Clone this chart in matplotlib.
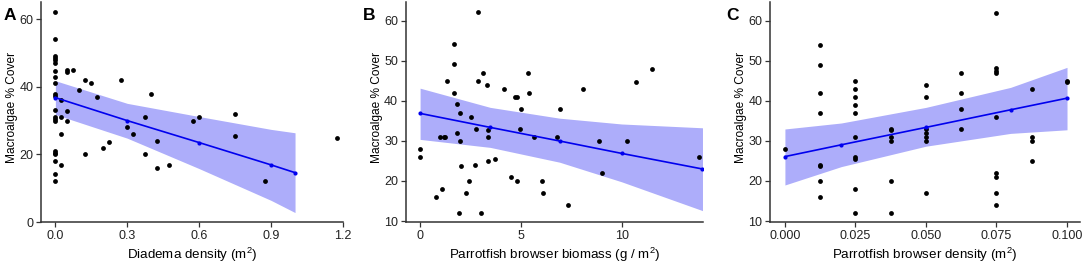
import numpy as np
import matplotlib
matplotlib.use("Agg")
import matplotlib.pyplot as plt

plt.rcParams['font.family'] = ['Liberation Sans', 'DejaVu Sans']
plt.rcParams['mathtext.default'] = 'regular'

# === Panel A: Diadema density ===
a_x = [0, 0, 0, 0, 0, 0, 0, 0, 0, 0, 0, 0, 0, 0, 0, 0, 0, 0, 0, 0, 0,
       0.025, 0.025, 0.025, 0.025, 0.05, 0.05, 0.075, 0.05, 0.05, 0.1, 0.125,
       0.15, 0.175, 0.125, 0.2, 0.225, 0.275, 0.3, 0.325, 0.375, 0.375, 0.4,
       0.425, 0.425, 0.475, 0.575, 0.6, 0.75, 0.75, 0.875, 1.175]
a_y = [62, 54, 49.2, 48.5, 47.8, 47.1, 44.7, 43, 41, 38, 37.4, 33.1, 31.2,
       30.5, 30, 21, 20.5, 20, 18, 14.1, 12,
       36, 31.1, 26, 17, 45, 44.4, 45, 32.8, 30, 39, 42,
       41, 37, 20, 22, 23.7, 42, 28, 26, 31.1, 20, 38,
       24, 16, 17, 30, 31, 32, 25.4, 12, 25]
a_fit_x = [0, 0.3, 0.6, 0.9, 1.0]
a_fit_y = [36.8, 30.0, 23.5, 16.9, 14.6]
a_lo = [31.8, 24.8, 15.8, 6.4, 2.8]
a_hi = [41.8, 35.1, 31.2, 27.4, 26.4]

# === Panel B: Parrotfish browser biomass ===
b_x = [0, 0, 0.79, 0.99, 1.07, 1.24, 1.35, 1.7, 1.7, 1.7, 1.85, 1.81, 1.93,
       1.98, 1.98, 2.03, 2.52, 2.29, 2.42, 2.74, 2.77, 2.87, 2.87, 3.03, 3.11,
       3.33, 3.36, 3.36, 3.37, 3.69, 4.15, 4.5, 4.7, 4.78, 4.78, 4.98, 4.94,
       5.36, 5.37, 5.63, 6.01, 6.1, 6.78, 6.92, 7.33, 8.04, 8.83, 9.0, 10.23,
       10.68, 11.47, 13.8, 1.19]
b_y = [28.1, 26.1, 16.1, 31.1, 18.1, 31.1, 45.1, 54.2, 49.2, 42.1, 39.2, 32.1,
       12.1, 37.1, 30, 23.75, 36.1, 17.1, 20, 24.1, 33.1, 62.2, 45.1, 12.1, 47.1,
       44.1, 31.1, 25.1, 32.75, 25.6, 43.1, 21.1, 41.1, 41.1, 20, 38.1, 33.1,
       47.1, 42.1, 31.1, 20, 17.1, 31.1, 38.1, 14.1, 43.1, 30, 22.1, 30,
       44.75, 48.1, 26.1, 31.1]
b_fit_x = [0, 3.47, 6.9, 9.97, 13.97]
b_fit_y = [36.9, 33.4, 30.0, 26.9, 23.0]
b_lo = [30.4, 28.4, 24.7, 19.8, 12.6]
b_hi = [43.2, 38.4, 35.7, 34.25, 33.3]

# === Panel C: Parrotfish browser density ===
c_x = [0,
       0.0125, 0.0125, 0.0125, 0.0125, 0.0125, 0.0125, 0.0125, 0.0125,
       0.025, 0.025, 0.025, 0.025, 0.025, 0.025, 0.025, 0.025, 0.025, 0.025,
       0.0375, 0.0375, 0.0375, 0.0375, 0.0375, 0.0375,
       0.05, 0.05, 0.05, 0.05, 0.05, 0.05, 0.05,
       0.0625, 0.0625, 0.0625, 0.0625,
       0.075, 0.075, 0.075, 0.075, 0.075, 0.075, 0.075, 0.075, 0.075,
       0.0875, 0.0875, 0.0875, 0.0875,
       0.1, 0.1]
c_y = [28,
       54.1, 49.1, 42, 37, 24.1, 23.7, 20, 16.1,
       45, 43, 41, 39, 37, 31, 26.1, 25.6, 18, 12.1,
       33, 32.7, 31, 30, 20, 12.1,
       44, 41, 33, 32, 31, 30, 17.1,
       47, 42, 38, 33,
       62.1, 48.2, 47.6, 47, 36, 22.1, 21.1, 17.1, 14.1,
       43, 31, 30, 25,
       45, 44.7]
c_fit_x = [0, 0.02, 0.05, 0.08, 0.1]
c_fit_y = [26.1, 29.05, 33.4, 37.8, 40.7]
c_lo = [19.0, 23.6, 28.7, 31.9, 32.8]
c_hi = [33.0, 34.5, 38.4, 43.4, 48.4]

panels = [
    dict(x=a_x, y=a_y, fx=a_fit_x, fy=a_fit_y, lo=a_lo, hi=a_hi,
         rect=[0.0378, 0.1747, 0.2786, 0.818], xlim=(-0.06, 1.2), ylim=(0, 65.1),
         xticks=[0, 0.3, 0.6, 0.9, 1.2], xfmt="{:.1f}", yticks=[0, 20, 40, 60],
         xlabel=r"Diadema density (m$^{2}$)", letter="A", lx=0.003),
    dict(x=b_x, y=b_y, fx=b_fit_x, fy=b_fit_y, lo=b_lo, hi=b_hi,
         rect=[0.3743, 0.1747, 0.2743, 0.818], xlim=(-0.71, 14.0), ylim=(9.75, 64.75),
         xticks=[0, 5, 10], xfmt="{:.0f}", yticks=[10, 20, 30, 40, 50, 60],
         xlabel=r"Parrotfish browser biomass (g / m$^{2}$)", letter="B", lx=0.335),
    dict(x=c_x, y=c_y, fx=c_fit_x, fy=c_fit_y, lo=c_lo, hi=c_hi,
         rect=[0.7103, 0.1747, 0.286, 0.818], xlim=(-0.0053, 0.1046), ylim=(9.75, 64.75),
         xticks=[0, 0.025, 0.05, 0.075, 0.1], xfmt="{:.3f}", yticks=[10, 20, 30, 40, 50, 60],
         xlabel=r"Parrotfish browser density (m$^{2}$)", letter="C", lx=0.670),
]

W, H = 1084, 269
fig = plt.figure(figsize=(W / 100, H / 100), dpi=100)

for p in panels:
    ax = fig.add_axes(p["rect"])
    ax.fill_between(p["fx"], p["lo"], p["hi"], color="#adadfa", lw=0, zorder=1)
    ax.scatter(p["x"], p["y"], s=12, color="black", lw=0, zorder=2)
    ax.plot(p["fx"], p["fy"], color="#0000ee", lw=1.2, zorder=3)
    ax.scatter(p["fx"], p["fy"], s=9, color="#0000ee", lw=0, zorder=4)

    ax.set_xlim(*p["xlim"])
    ax.set_ylim(*p["ylim"])
    ax.set_xticks(p["xticks"])
    ax.set_xticklabels([p["xfmt"].format(t) for t in p["xticks"]])
    ax.set_yticks(p["yticks"])
    ax.tick_params(labelsize=9, length=3.5, width=0.9, colors="#333333",
                   labelcolor="#222222", pad=2)
    for side in ["top", "right"]:
        ax.spines[side].set_visible(False)
    for side in ["left", "bottom"]:
        ax.spines[side].set_color("#333333")
        ax.spines[side].set_linewidth(1.1)

    ax_w = p["rect"][2] * W
    ax_h = p["rect"][3] * H
    ax.set_xlabel(p["xlabel"], fontsize=9.6, va="center")
    ax.xaxis.set_label_coords(0.5, -33 / ax_h)
    ax.set_ylabel("Macroalgae % Cover", fontsize=8.6, va="center")
    ax.yaxis.set_label_coords(-29 / ax_w, 0.52)
    fig.text(p["lx"], 0.972, p["letter"], fontsize=12.5, fontweight="bold", va="top")

fig.savefig("out.png", dpi=100)
